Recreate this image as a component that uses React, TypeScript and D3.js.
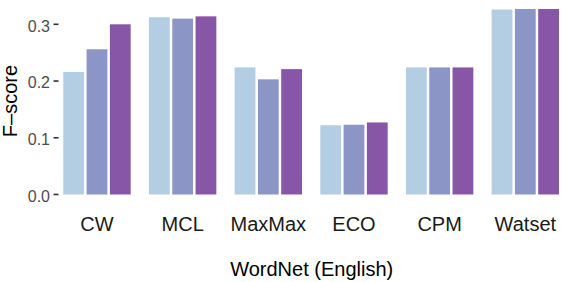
import React from "react";
import * as d3 from "d3";

const categories = ["CW", "MCL", "MaxMax", "ECO", "CPM", "Watset"];
const seriesA = [0.216, 0.3125, 0.224, 0.122, 0.224, 0.326];
const seriesB = [0.256, 0.31, 0.203, 0.123, 0.224, 0.327];
const seriesC = [0.3, 0.314, 0.221, 0.127, 0.224, 0.327];
const seriesColors = ["#b3cde3", "#8c96c6", "#8856a7"];
const yTicks = [0.0, 0.1, 0.2, 0.3];
const xTitle = "WordNet (English)";
const yTitle = "F\u2013score";

const W = 563;
const H = 282;
const FONT = "'Liberation Sans', Arial, Helvetica, sans-serif";

export default function App() {
  const series = [seriesA, seriesB, seriesC];
  const x = d3
    .scaleBand<string>()
    .domain(categories)
    .range([54.15, 568.15])
    .paddingInner(0.2135)
    .paddingOuter(0.2135 / 2);
  const xi = d3
    .scaleBand<number>()
    .domain([0, 1, 2])
    .range([0, x.bandwidth()])
    .paddingInner(0.107)
    .paddingOuter(0);
  const y = d3.scaleLinear().domain([0, 0.3]).range([194.5, 24.3]);
  const fmt = d3.format(".1f");

  return (
    <svg
      width={W}
      height={H}
      style={{ position: "absolute", left: 0, top: 0, background: "#fff" }}
      fontFamily={FONT}
    >
      {categories.map((c, ci) => (
        <g key={c} transform={`translate(${x(c)},0)`}>
          {series.map((s, si) => (
            <rect
              key={si}
              x={xi(si)}
              width={xi.bandwidth()}
              y={y(s[ci])}
              height={y(0) - y(s[ci])}
              fill={seriesColors[si]}
            />
          ))}
        </g>
      ))}
      {yTicks.map((t) => (
        <g key={t}>
          <line x1={53.5} x2={58.5} y1={y(t)} y2={y(t)} stroke="#333" strokeWidth={1.6} />
          <text
            x={50}
            y={y(t) + 1.8}
            textAnchor="end"
            dominantBaseline="central"
            fontSize={16}
            fill="#4d4d4d"
          >
            {fmt(t)}
          </text>
        </g>
      ))}
      {categories.map((c) => (
        <text
          key={c}
          x={(x(c) as number) + x.bandwidth() / 2}
          y={230.5}
          textAnchor="middle"
          fontSize={20}
          fill="#1a1a1a"
        >
          {c}
        </text>
      ))}
      <text x={311.7} y={275.5} textAnchor="middle" fontSize={20} fill="#000">
        {xTitle}
      </text>
      <text
        transform="translate(16.5,101) rotate(-90)"
        textAnchor="middle"
        fontSize={20}
        fill="#000"
      >
        {yTitle}
      </text>
    </svg>
  );
}
